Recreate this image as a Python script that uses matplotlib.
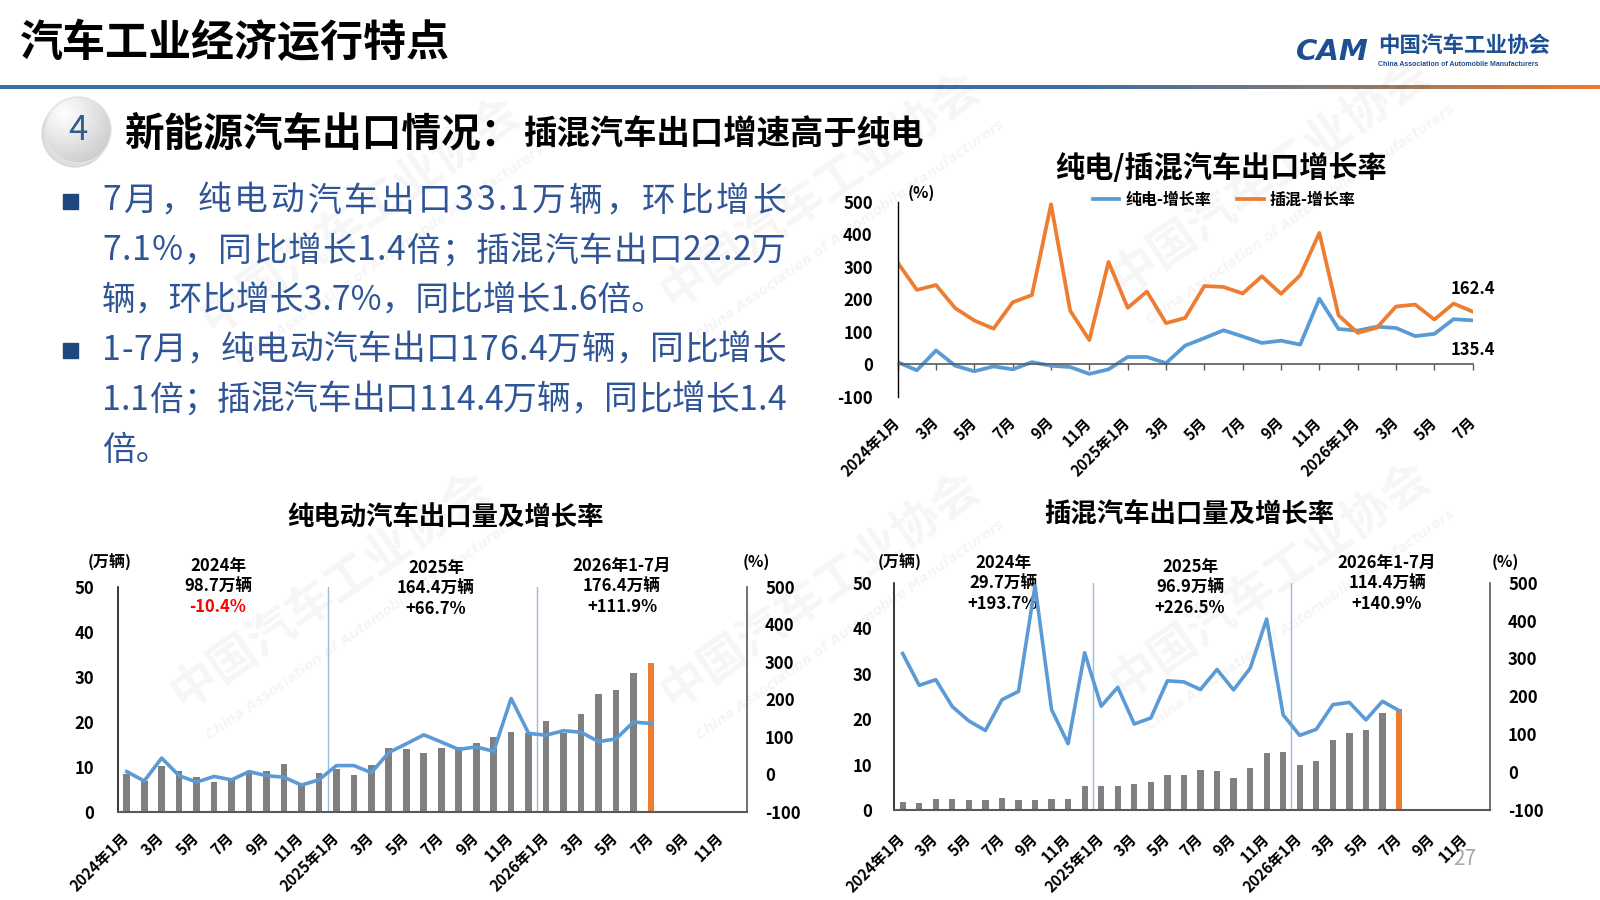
import numpy as np
import matplotlib
matplotlib.use("Agg")
import matplotlib.pyplot as plt
from matplotlib.patches import Circle, Rectangle
from matplotlib.colors import LinearSegmentedColormap

plt.rcParams['font.family'] = ['Noto Sans CJK SC', 'DejaVu Sans']
plt.rcParams['font.weight'] = 'bold'
plt.rcParams['axes.unicode_minus'] = False

W, H = 1600, 900

# ---------------- data ----------------
month_labels = ["2024年1月", "3月", "5月", "7月", "9月", "11月",
                "2025年1月", "3月", "5月", "7月", "9月", "11月",
                "2026年1月", "3月", "5月", "7月", "9月", "11月"]
n_slots = 36  # 2024-01 .. 2026-12

# growth rate, % (2024-01 .. 2026-07)
bev_growth = [7, -18, 43, -4, -21, -6, -15, 7, -4, -8, -29, -15,
              23, 23, 4, 58, 81, 105, 86, 66, 73, 61,
              202, 109, 104, 116, 112, 87, 94, 139, 135.4]
phev_growth = [313, 229, 244, 173, 135, 110, 191, 213, 492, 165, 75, 315,
               174, 224, 127, 143, 241, 238, 218, 271, 217, 274,
               404, 151, 97, 113, 178, 184, 138, 187, 162.4]

# export volume, 10k units
bev_volume = [8.3, 6.8, 10.2, 9.1, 7.7, 6.5, 7.5, 8.6, 9.1, 10.5, 5.9, 8.5,
              9.6, 8.1, 10.4, 14.1, 13.9, 13.0, 14.1, 14.3, 15.2, 16.5, 17.7, 17.5,
              20.1, 17.5, 21.7, 26.1, 27.0, 30.9, 33.1]
phev_volume = [1.8, 1.6, 2.4, 2.4, 2.2, 2.2, 2.6, 2.2, 2.2, 2.4, 2.4, 5.3,
               5.2, 5.2, 5.7, 6.2, 7.8, 7.8, 8.9, 8.5, 7.0, 9.3, 12.5, 12.8,
               10.0, 10.8, 15.4, 16.9, 17.7, 21.4, 22.2]

bev_notes = [("2024年", "98.7万辆", "-10.4%"),
             ("2025年", "164.4万辆", "+66.7%"),
             ("2026年1-7月", "176.4万辆", "+111.9%")]
phev_notes = [("2024年", "29.7万辆", "+193.7%"),
              ("2025年", "96.9万辆", "+226.5%"),
              ("2026年1-7月", "114.4万辆", "+140.9%")]

bullet1 = ["7月，纯电动汽车出口33.1万辆，环比增长",
           "7.1%，同比增长1.4倍；插混汽车出口22.2万",
           "辆，环比增长3.7%，同比增长1.6倍。"]
bullet2 = ["1-7月，纯电动汽车出口176.4万辆，同比增长",
           "1.1倍；插混汽车出口114.4万辆，同比增长1.4",
           "倍。"]

BLUE = '#5b9bd5'
ORANGE = '#ed7d31'
GRAY = '#7f7f7f'
SEP = '#9dbbe0'
TXT_BLUE = '#2f5597'
NAVY = '#1f497d'
LOGO = '#1d4f91'


def add_axes(fig, x0, y0, x1, y1):
    return fig.add_axes([x0 / W, 1 - y1 / H, (x1 - x0) / W, (y1 - y0) / H])


fig = plt.figure(figsize=(16, 9), dpi=100)
fig.patch.set_facecolor('white')
renderer = fig.canvas.get_renderer()

bg = fig.add_axes([0, 0, 1, 1])
bg.set_xlim(0, W)
bg.set_ylim(H, 0)
bg.axis('off')


def justified(x0, y, line, width, **kw):
    """Draw one line spread to the given pixel width, char by char."""
    def w(s):
        t = bg.text(0, 0, s, **kw)
        ext = t.get_window_extent(renderer).width
        t.remove()
        return ext
    natural = w(line)
    gap = (width - natural) / (len(line) - 1)
    for i, ch in enumerate(line):
        bg.text(x0 + (w(line[:i]) if i else 0) + i * gap, y, ch, ha='left', va='center', **kw)


# watermarks
for cx, cy in [(360, 215), (820, 190), (1270, 175), (330, 590), (820, 590), (1270, 580)]:
    bg.text(cx, cy, "中国汽车工业协会", rotation=35, fontsize=34, color='#000000',
            alpha=0.04, ha='center', va='center')
    bg.text(cx + 30, cy + 40, "China Association of Automobile Manufacturers", rotation=35,
            fontsize=10, style='italic', color='#000000', alpha=0.045,
            ha='center', va='center', family='DejaVu Sans')

# ---------------- header ----------------
bg.text(20, 43, "汽车工业经济运行特点", fontsize=31, color='black', ha='left', va='center')

grad = LinearSegmentedColormap.from_list(
    'hdr', [(0, '#3a6fa8'), (0.68, '#416ea1'), (0.84, '#857b72'), (1.0, '#ee792b')])
bg.imshow(np.linspace(0, 1, 400).reshape(1, -1), cmap=grad, aspect='auto',
          extent=(0, W, 89.5, 85.5), zorder=2)

bg.text(1369, 52, "CAM", fontsize=21, style='italic', weight='heavy', color=LOGO,
        family='DejaVu Sans', ha='right', va='center')
bg.text(1378, 45, "中国汽车工业协会", fontsize=15.5, color=LOGO, ha='left', va='center')
bg.text(1378, 65, "China Association of Automobile Manufacturers", fontsize=5,
        color=LOGO, ha='left', va='center', family='Liberation Sans')

# numbered circle
bg.add_patch(Circle((75, 134), 33, color='#c9c9c9', alpha=0.6, zorder=3))
circ = Circle((78, 130), 33, facecolor='none', edgecolor='#e3e3e3', lw=1, zorder=5)
bg.add_patch(circ)
yy, xx = np.mgrid[0:1:100j, 0:1:100j]
shade = 1 - 0.22 * np.clip(np.hypot(xx - 0.3, yy - 0.25) / 0.9, 0, 1)
img = bg.imshow(shade, cmap='gray', vmin=0, vmax=1, extent=(45, 111, 163, 97), zorder=4)
img.set_clip_path(circ)
bg.text(78, 131, "4", fontsize=25, weight='normal', color='#2f5d8e',
        ha='center', va='center', zorder=6)

bg.text(125, 145, "新能源汽车出口情况：", fontsize=28.5, color='black', ha='left', va='baseline')
bg.text(523, 145, "插混汽车出口增速高于纯电", fontsize=24, color='black', ha='left', va='baseline')

# bullets (all but the last line of each paragraph are justified)
for y0, lines in [(201, bullet1), (350, bullet2)]:
    bg.add_patch(Rectangle((63, y0 - 7.5), 15, 15, color=NAVY, zorder=3))
    for k, line in enumerate(lines):
        style = dict(fontsize=24.3, weight='normal', color=TXT_BLUE)
        if k < len(lines) - 1:
            justified(102, y0 + 50 * k, line, 684, **style)
        else:
            bg.text(102, y0 + 50 * k, line, ha='left', va='center', **style)

# ---------------- top-right chart ----------------
bg.text(1221, 168, "纯电/插混汽车出口增长率", fontsize=21, ha='center', va='center')
bg.text(921, 193, "(%)", fontsize=11.5, ha='center', va='center')

ax = add_axes(fig, 897.7, 201.7, 1472.7, 397)
ax.set_facecolor('none')
xm = np.arange(len(bev_growth))
ax.plot(xm, bev_growth, color=BLUE, lw=2.7, label='纯电-增长率', solid_joinstyle='round')
ax.plot(xm, phev_growth, color=ORANGE, lw=2.7, label='插混-增长率', solid_joinstyle='round')
ax.set_xlim(0, 30)
ax.set_ylim(-100, 500)
ax.set_yticks(range(-100, 501, 100))
ax.set_xticks(range(0, 31, 2))
ax.set_xticklabels(month_labels[:16])
ax.spines['bottom'].set_position(('data', 0))
ax.spines['bottom'].set_color('#595959')
ax.spines['bottom'].set_linewidth(1.2)
ax.spines['left'].set_linewidth(1.0)
for s in ('top', 'right'):
    ax.spines[s].set_visible(False)
ax.tick_params(axis='x', length=4, width=1, color='#595959', labelsize=11, pad=36)
ax.tick_params(axis='y', length=0, labelsize=12, pad=18)
plt.setp(ax.get_xticklabels(), rotation=45, ha='right', va='center', rotation_mode='anchor')
ax.annotate(f"{phev_growth[-1]:.1f}", (30, phev_growth[-1]), xytext=(0, 16),
            textcoords='offset points', ha='center', va='center', fontsize=12,
            annotation_clip=False)
ax.annotate(f"{bev_growth[-1]:.1f}", (30, bev_growth[-1]), xytext=(0, -21),
            textcoords='offset points', ha='center', va='center', fontsize=12,
            annotation_clip=False)
ax.legend(loc='center left', bbox_to_anchor=(1093 / W, 1 - 200 / H),
          bbox_transform=fig.transFigure, ncol=2, frameon=False, fontsize=11.5,
          handlelength=1.65, handletextpad=0.4, columnspacing=1.6,
          borderpad=0, borderaxespad=0)


# ---------------- bottom charts ----------------
def volume_chart(box, title, title_xy, volume, growth, notes, note_x, note_y,
                 unit_xy, pct_xy, xpad, lpad):
    bg.text(title_xy[0], title_xy[1], title, fontsize=19, ha='center', va='center')
    bg.text(unit_xy[0], unit_xy[1], "(万辆)", fontsize=11.5, ha='center', va='center')
    bg.text(pct_xy[0], pct_xy[1], "(%)", fontsize=11.5, ha='center', va='center')
    for (yr, vol, pct), nx, ny in zip(notes, note_x, note_y):
        bg.text(nx, ny, yr, fontsize=12, ha='center', va='center')
        bg.text(nx, ny + 20.5, vol, fontsize=12, ha='center', va='center')
        bg.text(nx, ny + 41, pct, fontsize=12, ha='center', va='center',
                color='#ff0000' if pct.startswith('-') else 'black')

    a = add_axes(fig, *box)
    a.set_facecolor('none')
    idx = np.arange(len(volume))
    colors = [GRAY] * (len(volume) - 1) + [ORANGE]
    a.bar(idx, volume, width=0.38, color=colors, zorder=2)
    a.axvline(11.5, color=SEP, lw=1, zorder=1)
    a.axvline(23.5, color=SEP, lw=1, zorder=1)
    a.set_xlim(-0.5, n_slots - 0.5)
    a.set_ylim(0, 50)
    a.set_yticks(range(0, 51, 10))
    a.set_xticks(np.arange(0, n_slots, 2))
    a.set_xticklabels(month_labels)
    a.tick_params(axis='x', length=0, labelsize=11, pad=xpad)
    a.tick_params(axis='y', length=0, labelsize=12, pad=lpad)
    plt.setp(a.get_xticklabels(), rotation=45, ha='right', va='center', rotation_mode='anchor')
    for s in ('top', 'right'):
        a.spines[s].set_visible(False)
    a.spines['left'].set_linewidth(1.1)
    a.spines['bottom'].set_color('#595959')
    a.spines['bottom'].set_linewidth(1.5)

    a2 = a.twinx()
    a2.plot(idx, growth, color=BLUE, lw=2.6, solid_joinstyle='round', zorder=3)
    a2.set_ylim(-100, 500)
    a2.set_yticks(range(-100, 501, 100))
    a2.tick_params(axis='y', length=0, labelsize=12, pad=13)
    for s in ('top', 'left', 'bottom'):
        a2.spines[s].set_visible(False)
    a2.spines['right'].set_color('#595959')
    a2.spines['right'].set_linewidth(1.2)
    return a, a2


volume_chart((118, 586.7, 747, 811.7), "纯电动汽车出口量及增长率", (446, 518),
             bev_volume, bev_growth, bev_notes, (218, 436, 622), (566, 568, 566),
             (110, 562), (756, 562), xpad=17, lpad=17)
volume_chart((894.4, 582.7, 1490, 810), "插混汽车出口量及增长率", (1189, 515),
             phev_volume, phev_growth, phev_notes, (1003, 1190, 1387), (563, 567, 563),
             (900, 562), (1505, 562), xpad=19, lpad=16)

bg.text(1465, 859, "27", fontsize=15, weight='normal', color='#a6a6a6', ha='center', va='center')

fig.savefig("out.png", dpi=100, facecolor='white')
